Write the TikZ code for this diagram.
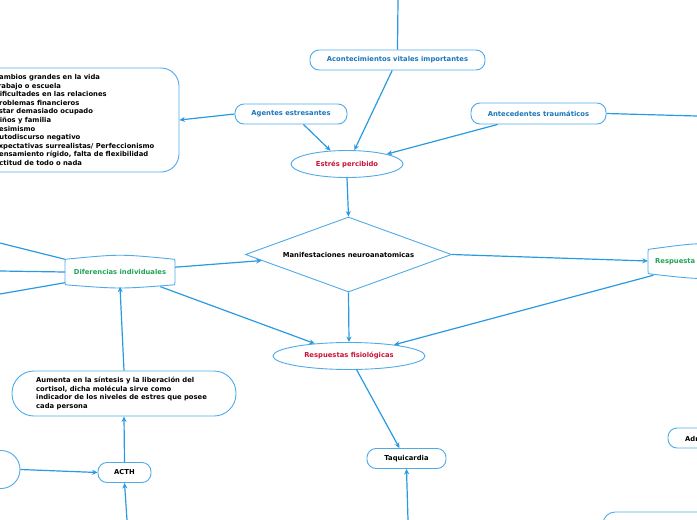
\documentclass[tikz,border=0pt]{standalone}
\usepackage{fontspec}
\setmainfont{DejaVu Sans}
\usetikzlibrary{arrows.meta,shapes.geometric}
\definecolor{linecol}{HTML}{2A9AE0}
\definecolor{bordercol}{HTML}{4EAAE8}
\definecolor{bluetext}{HTML}{1B75BC}
\definecolor{redtext}{HTML}{CC1136}
\definecolor{greentext}{HTML}{1FA356}
\begin{document}
\begin{tikzpicture}[x=1pt,y=-1pt,
  conn/.style={draw=linecol, line width=1.2pt},
  arr/.style={conn, -{Stealth[length=5.5pt,width=5pt]}},
  txt/.style={font=\fontsize{6.8}{8.6}\selectfont\bfseries},
  rbox/.style={txt, draw=bordercol, line width=0.9pt, rounded corners=9pt, inner sep=0pt, minimum height=20pt},
  ell/.style={txt, draw=bordercol, line width=0.9pt, ellipse, inner sep=0pt, text=redtext},
  tapebox/.style={txt, inner sep=0pt, text=greentext},
  tapeline/.style={draw=bordercol, line width=0.9pt}
]
\useasboundingbox (0,0) rectangle (697,520);
\clip (0,0) rectangle (697,520);

% nodes
\node[rbox, text=bluetext, minimum width=175pt] (acon) at (397.5,60) {Acontecimientos vitales importantes};
\node[rbox, text=bluetext, minimum width=112pt] (agentes) at (291,114) {Agentes estresantes};
\node[rbox, text=bluetext, minimum width=135pt, minimum height=21pt] (antec) at (538.5,113.5) {Antecedentes traumáticos};
\node[draw=bordercol, line width=0.9pt, rounded corners=18pt, minimum width=220pt, minimum height=104pt] (lista) at (69,120) {};
\node[txt, anchor=west, align=left, inner sep=0pt] (listatext) at (-6,120) {Cambios grandes en la vida\\Trabajo o escuela\\Dificultades en las relaciones\\Problemas financieros\\Estar demasiado ocupado\\Niños y familia\\Pesimismo\\Autodiscurso negativo\\Expectativas surrealistas/ Perfeccionismo\\Pensamiento rígido, falta de flexibilidad\\Actitud de todo o nada};
\node[ell, minimum width=112pt, minimum height=27pt] (estres) at (347,164) {Estrés percibido};
\node[txt, diamond, aspect=2.75, draw=bordercol, line width=0.9pt, inner sep=0pt, minimum width=206pt, minimum height=75pt] (diam) at (348.5,254.5) {Manifestaciones neuroanatomicas};
\node[tapebox, minimum width=110pt, minimum height=29pt] (dif) at (120,272) {Diferencias individuales};
\node[inner sep=0pt, minimum width=110pt, minimum height=28pt] (resp) at (703,261) {};
\node[tapebox, anchor=west] (resptext) at (655,262) {Respuesta};
\node[ell, minimum width=152pt, minimum height=27pt] (fis) at (349,356) {Respuestas fisiológicas};
\node[rbox, minimum width=79pt] (taqui) at (406.5,458.5) {Taquicardia};
\node[draw=bordercol, line width=0.9pt, rounded corners=22pt, minimum width=224pt, minimum height=45pt] (aum) at (124,393.5) {};
\node[txt, anchor=north west, align=left, inner sep=0pt] (aumtext) at (36,377) {Aumenta en la síntesis y la liberación del\\cortisol, dicha molécula sirve como\\indicador de los niveles de estres que posee\\cada persona};
\node[rbox, minimum width=53pt] (acth) at (124.5,472.5) {ACTH};
\node[circle, draw=bordercol, line width=0.9pt, minimum size=38pt, inner sep=0pt] (circ) at (1,469.5) {};
\node[draw=bordercol, line width=0.9pt, rounded corners=9pt, minimum width=80pt, minimum height=20pt] (adm) at (708,438) {};
\node[txt, anchor=west, inner sep=0pt] (admtext) at (685,438.5) {Adr};
\node[draw=bordercol, line width=0.9pt, rounded corners=12pt, minimum width=160pt, minimum height=40pt] (botbox) at (683,532) {};

% tape-like outlines
\draw[tapeline] (65,262) -- (65,282) .. controls (65,285) .. (68,285) .. controls (120,289) .. (172,285) .. controls (175,285) .. (175,282) -- (175,262) .. controls (175,259) .. (172,259) .. controls (120,254) .. (68,259) .. controls (65,259) .. (65,262) -- cycle;
\draw[tapeline] (648,252) -- (648,271) .. controls (648,274) .. (651,274) .. controls (703,280) .. (755,274) -- (758,260) -- (755,248) .. controls (703,242) .. (651,249) .. controls (648,249) .. (648,252) -- cycle;

% free ends
\coordinate (top) at (398,0);
\coordinate (rightc) at (697,116);
\coordinate (l1) at (0,243);
\coordinate (l2) at (0,271);
\coordinate (l3) at (0,294);
\coordinate (btaq) at (408,520);
\coordinate (bacth) at (127,520);

% connectors
\draw[conn] (top) -- (acon.north);
\draw[arr] (agentes.west) -- (lista.east);
\draw[conn] (antec.east) -- (rightc);
\draw[arr] (agentes.-40) -- (estres.141);
\draw[arr] (acon.-117) -- (estres.62);
\draw[arr] (antec.-165) -- (estres.14);
\draw[arr] (estres.south) -- (diam.north);
\draw[arr] (diam.east) -- (resp.west);
\draw[arr] (dif.5) -- (diam.184);
\draw[arr] (diam.south) -- (fis.north);
\draw[arr] (dif.-20) -- (fis.160);
\draw[arr] (resp.-164) -- (fis.14);
\draw[arr] (fis.-61) -- (taqui.124);
\draw[arr] (btaq) -- (taqui.south);
\draw[arr] (aum.north) -- (dif.south);
\draw[arr] (acth.north) -- (aum.south);
\draw[arr] (bacth) -- (acth.south);
\draw[arr] (circ.east) -- (acth.west);
\draw[conn] (l1) -- (dif.167);
\draw[conn] (l2) -- (dif.west);
\draw[conn] (l3) -- (dif.191);
\end{tikzpicture}
\end{document}
